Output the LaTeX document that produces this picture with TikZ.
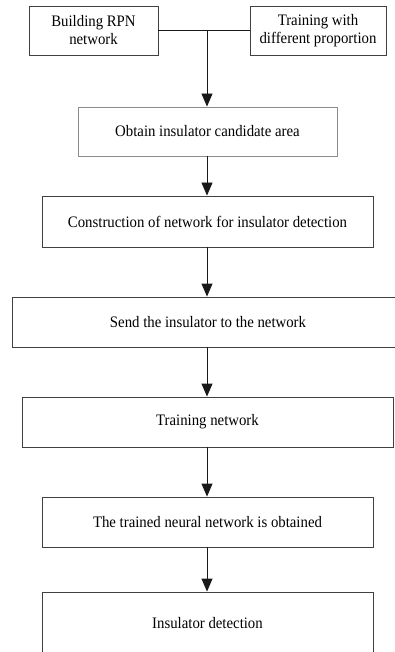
\documentclass[tikz,border=0pt]{standalone}
\usepackage{fontspec}
\setmainfont{Liberation Serif}[FakeStretch=0.925]
\usetikzlibrary{arrows.meta}
\tikzset{
  box/.style={draw=black!75, line width=0.9pt, inner sep=0pt, align=center,
    font=\fontsize{16}{18}\selectfont, text=black},
  flow/.style={draw=black!90, line width=0.9pt, -{Triangle[length=13pt,width=11pt]}},
  link/.style={draw=black!90, line width=0.9pt}
}
\begin{document}
\begin{tikzpicture}[x=1pt,y=-1pt]
\useasboundingbox (0,0) rectangle (395,652);
\clip (0,0) rectangle (395,652);
\node[box, minimum width=129pt, minimum height=49pt] (b1) at (93.5,30.5) {Building RPN\\network};
\node[box, minimum width=136pt, minimum height=49pt] (b2) at (318,30.5) {Training with\\different proportion};
\node[box, draw=black!45, minimum width=259pt, minimum height=49pt] (b3) at (207.5,131.5) {Obtain insulator candidate area};
\node[box, minimum width=331pt, minimum height=51pt] (b4) at (207.5,221.5) {Construction of network for insulator detection};
\node[box, minimum width=392pt, minimum height=50pt] (b5) at (208,322) {Send the insulator to the network};
\node[box, minimum width=371pt, minimum height=50pt] (b6) at (207.5,422) {Training network};
\node[box, minimum width=331pt, minimum height=50pt] (b7) at (207.5,522) {The trained neural network is obtained};
\node[box, minimum width=331pt, minimum height=62pt] (b8) at (207.5,623) {Insulator detection};
\coordinate (j) at (207,30.5);
\draw[link] (b1.east) -- (b2.west);
\draw[flow] (j) -- (j |- b3.north);
\draw[flow] (b3.south -| j) -- (j |- b4.north);
\draw[flow] (b4.south -| j) -- (j |- b5.north);
\draw[flow] (b5.south -| j) -- (j |- b6.north);
\draw[flow] (b6.south -| j) -- (j |- b7.north);
\draw[flow] (b7.south -| j) -- (j |- b8.north);
\end{tikzpicture}
\end{document}
